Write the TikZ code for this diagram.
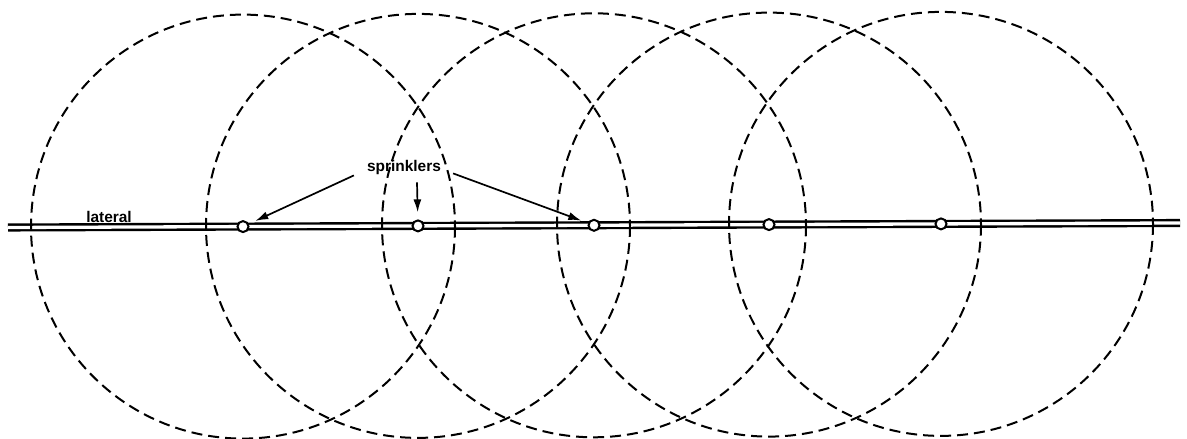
\documentclass[tikz,border=0pt]{standalone}
\usepackage{fontspec}
\setmainfont{Liberation Sans}
\usetikzlibrary{arrows.meta}

\begin{document}
\begin{tikzpicture}[x=1bp, y=-1bp,
    sprinkler/.style={draw, circle, fill=white, line width=2bp, inner sep=0pt, minimum size=11bp},
    reach/.style={line width=2bp, dash pattern=on 11bp off 6bp},
    pipe/.style={double, double distance=3.3bp, line width=2.4bp},
    lbl/.style={font=\fontsize{15.5}{18}\selectfont\bfseries, inner sep=0pt},
    pointer/.style={-{Latex[length=13bp, width=8bp]}, line width=1.7bp, shorten >=7bp}]
        \useasboundingbox (0,0) rectangle (1187,439);
        \coordinate (latL) at (8,227.5);
        \coordinate (latR) at (1180,223);
        \coordinate (c1) at (243,226.6);
        \coordinate (c2) at (418,225.9);
        \coordinate (c3) at (594,225.3);
        \coordinate (c4) at (769,224.6);
        \coordinate (c5) at (941,223.9);
        
        \draw[pipe] (latL) -- (latR);
        \foreach \c in {c1,c2,c3,c4,c5}
            \draw[reach] (\c) circle[radius=212];
        \foreach \c [count=\i] in {c1,c2,c3,c4,c5}
            \node[sprinkler] (s\i) at (\c) {};
        
        \node[lbl, anchor=base] (lat) at (109,223) {lateral};
        \node[lbl, anchor=base] (spr) at (404,172) {sprinklers};
        
        \draw[pointer] ([shift={(-13,0)}]spr.south west) -- (s1);
        \draw[pointer] ([shift={(13,7)}]spr.south) -- (s2);
        \draw[pointer] ([shift={(12,-2)}]spr.south east) -- (s3);
    \end{tikzpicture}
\end{document}
